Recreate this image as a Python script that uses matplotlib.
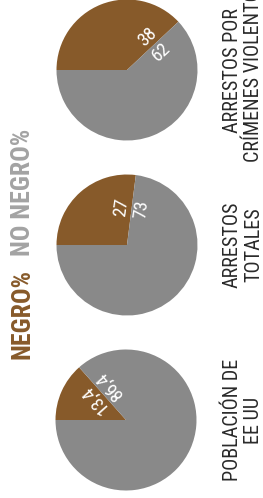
import matplotlib
matplotlib.use("Agg")
import matplotlib.pyplot as plt
import numpy as np
from matplotlib import font_manager

# ---- data ----
categories = ["ARRESTOS POR\nCRÍMENES VIOLENTOS", "ARRESTOS\nTOTALES", "POBLACIÓN DE\nEE UU"]
negro = [38, 27, 13.4]
no_negro = [62, 73, 86.4]
negro_labels = ["38", "27", "13,4"]
no_negro_labels = ["62", "73", "86,4"]
legend_labels = ["NEGRO%", "NO NEGRO%"]

BROWN = "#875a2a"
GRAY = "#898989"
LEG_GRAY = "#a3a3a3"
TXT = "#2a2a2a"

names = {f.name for f in font_manager.fontManager.ttflist}
FONT = "DejaVu Sans"
stretch = "condensed"
for cand in ["Roboto Condensed", "Liberation Sans Narrow", "Open Sans Condensed"]:
    if cand in names:
        FONT = cand
        stretch = "normal"
        break

W, H = 263, 498
fig = plt.figure(figsize=(W / 100, H / 100), dpi=100)
ax = fig.add_axes([0, 0, 1, 1])

centers_px = [(127, 70), (127, 245), (126, 420)]
R = 70.5

for i, (cx, cy) in enumerate(centers_px):
    cyd = H - cy
    ax.pie([negro[i], no_negro[i]], colors=[BROWN, GRAY], startangle=180,
           counterclock=False, center=(cx, cyd), radius=R,
           wedgeprops=dict(linewidth=0), frame=True)
    ang = 180 - 360 * negro[i] / (negro[i] + no_negro[i])
    t = np.deg2rad(ang)
    d = 37
    px, py = cx + d * np.cos(t), cyd + d * np.sin(t)
    nx, ny = -np.sin(t), np.cos(t)
    off = 1.0
    ax.text(px + off * nx, py + off * ny, negro_labels[i], rotation=ang,
            rotation_mode="anchor", ha="center", va="bottom", color="white",
            fontsize=13.5, family=FONT, fontstretch=stretch)
    ax.text(px - off * nx, py - off * ny, no_negro_labels[i], rotation=ang,
            rotation_mode="anchor", ha="center", va="top", color="white",
            fontsize=13.5, family=FONT, fontstretch=stretch)
    ax.text(243, cyd, categories[i], rotation=90, ha="center", va="center",
            multialignment="center", color=TXT, fontsize=14.5, family=FONT,
            fontstretch=stretch, linespacing=1.15)

ax.set_xlim(0, W)
ax.set_ylim(0, H)
ax.set_aspect("equal")
ax.axis("off")

ax.text(23, H - 314, legend_labels[0], rotation=90, ha="center", va="center",
        color=BROWN, fontsize=18.5, fontweight="bold", family=FONT, fontstretch=stretch)
ax.text(23, H - 192, legend_labels[1], rotation=90, ha="center", va="center",
        color=LEG_GRAY, fontsize=18.5, fontweight="bold", family=FONT, fontstretch=stretch)

fig.savefig("out.png", dpi=100)
